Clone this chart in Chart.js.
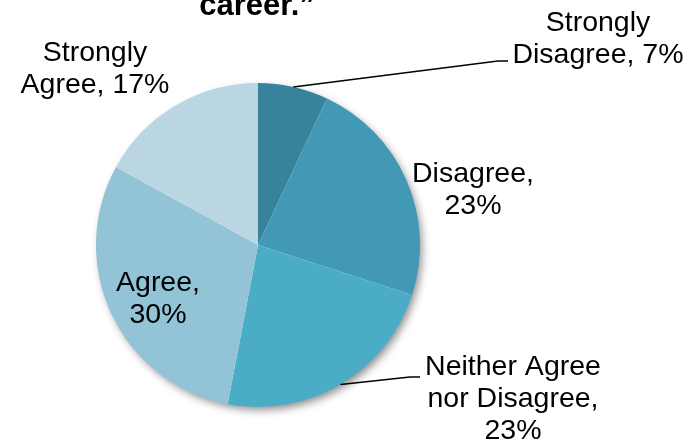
<!DOCTYPE html>
<html lang="en">
<head>
  <meta charset="UTF-8">
  <title>Survey Responses</title>
  <script src="https://cdn.jsdelivr.net/npm/chart.js@4.4.1/dist/chart.umd.min.js"></script>
  <style>
    body {
      margin: 0;
      background-color: #ffffff;
    }
    canvas {
      display: block;
    }
  </style>
</head>
<body>
  <canvas id="pieChart" width="691" height="446"></canvas>

  <script>
    const categories = ['Strongly Disagree', 'Disagree', 'Neither Agree nor Disagree', 'Agree', 'Strongly Agree'];
    const percents = [7, 23, 23, 30, 17];
    const sliceColors = ['#37839b', '#4299b5', '#4bacc6', '#92c3d6', '#bad6e3'];
    const titleText = 'career.\u201d';

    // where each label block sits, how wide a line may get, and an optional leader line elbow
    const labelLayout = [
      { x: 598, y: 39, wrap: 200, elbow: [498, 61, 508, 61] },
      { x: 473, y: 190, wrap: 140 },
      { x: 513, y: 399, wrap: 200, elbow: [410, 377, 420, 377] },
      { x: 158, y: 299, wrap: 100 },
      { x: 95, y: 69, wrap: 160 }
    ];

    const FONT = '28.5px "Liberation Sans", Arial, sans-serif';
    const LINE_H = 32;

    function wrapText(ctx, text, maxWidth) {
      const words = text.split(' ');
      const lines = [];
      let cur = '';
      words.forEach(w => {
        const test = cur ? cur + ' ' + w : w;
        if (cur && ctx.measureText(test).width > maxWidth) {
          lines.push(cur);
          cur = w;
        } else {
          cur = test;
        }
      });
      if (cur) lines.push(cur);
      return lines;
    }

    const shadowPlugin = {
      id: 'pieShadow',
      beforeDatasetsDraw(chart) {
        const arc = chart.getDatasetMeta(0).data[0];
        if (!arc) return;
        const ctx = chart.ctx;
        ctx.save();
        ctx.shadowColor = 'rgba(0, 0, 0, 0.45)';
        ctx.shadowBlur = 9;
        ctx.shadowOffsetX = 3;
        ctx.shadowOffsetY = 4;
        ctx.fillStyle = '#ffffff';
        ctx.beginPath();
        ctx.arc(arc.x, arc.y, arc.outerRadius - 1, 0, Math.PI * 2);
        ctx.fill();
        ctx.restore();
      }
    };

    const labelPlugin = {
      id: 'sliceLabels',
      afterDatasetsDraw(chart) {
        const ctx = chart.ctx;
        const arcs = chart.getDatasetMeta(0).data;
        ctx.save();
        ctx.font = FONT;
        ctx.fillStyle = '#000000';
        ctx.textAlign = 'center';
        ctx.textBaseline = 'middle';

        arcs.forEach((arc, i) => {
          const lay = labelLayout[i];
          if (lay.elbow) {
            const mid = (arc.startAngle + arc.endAngle) / 2;
            const sx = arc.x + Math.cos(mid) * arc.outerRadius;
            const sy = arc.y + Math.sin(mid) * arc.outerRadius;
            ctx.strokeStyle = '#000000';
            ctx.lineWidth = 1.5;
            ctx.beginPath();
            ctx.moveTo(sx, sy);
            ctx.lineTo(lay.elbow[0], lay.elbow[1]);
            ctx.lineTo(lay.elbow[2], lay.elbow[3]);
            ctx.stroke();
          }
          const text = `${categories[i]}, ${percents[i]}%`;
          const lines = wrapText(ctx, text, lay.wrap);
          const top = lay.y - (lines.length - 1) * LINE_H / 2;
          lines.forEach((ln, k) => ctx.fillText(ln, lay.x, top + k * LINE_H));
        });

        // title, mostly running off the top edge
        ctx.font = 'bold 31px "Liberation Sans", Arial, sans-serif';
        ctx.textBaseline = 'alphabetic';
        ctx.fillText(titleText, 257, 15);
        ctx.restore();
      }
    };

    const ctx = document.getElementById('pieChart').getContext('2d');
    new Chart(ctx, {
      type: 'pie',
      data: {
        labels: categories,
        datasets: [{
          data: percents,
          backgroundColor: sliceColors,
          borderWidth: 0
        }]
      },
      options: {
        responsive: false,
        animation: false,
        layout: { padding: { left: 96, right: 271, top: 83, bottom: 39 } },
        plugins: {
          legend: { display: false },
          tooltip: { enabled: false },
          title: { display: false }
        }
      },
      plugins: [shadowPlugin, labelPlugin]
    });
  </script>
</body>
</html>
